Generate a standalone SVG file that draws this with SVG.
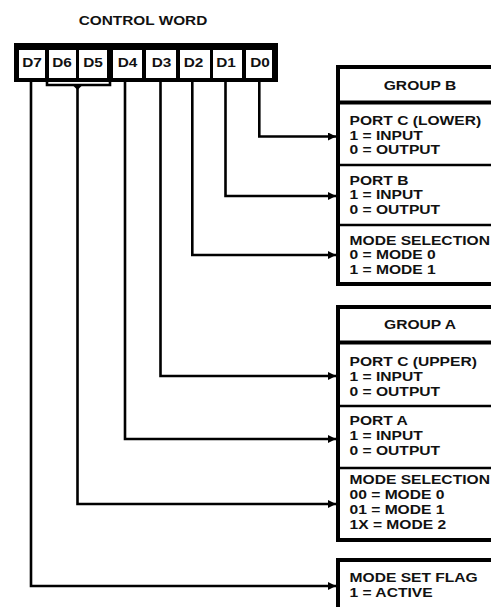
<svg xmlns="http://www.w3.org/2000/svg" width="491" height="607" viewBox="0 0 491 607">
<defs>
<style>
.t{font-family:"Liberation Sans",Arial,Helvetica,sans-serif;font-weight:bold;font-size:12.5px;fill:#111}
.m{text-anchor:middle}
.cell{fill:#fff}
.box{fill:#fff;stroke:#000;stroke-width:4}
.hdr{stroke:#000;stroke-width:4}
.div{stroke:#000;stroke-width:2.6}
.con{fill:none;stroke:#000;stroke-width:2.6}
</style>
<marker id="ah" viewBox="0 0 10 10" refX="10" refY="5" markerWidth="9" markerHeight="8" markerUnits="userSpaceOnUse" orient="auto">
<path d="M0,0 L10,5 L0,10 z" fill="#000"/>
</marker>
</defs>
<rect width="491" height="607" fill="#fff"/>

<g id="control-word">
<rect x="14" y="43" width="264" height="39" fill="#000"/>
<g id="cell-D7"><rect class="cell" x="19" y="50" width="26" height="28"/></g>
<g id="cell-D6"><rect class="cell" x="49" y="50" width="27" height="28"/></g>
<g id="cell-D5"><rect class="cell" x="79" y="50" width="28" height="28"/></g>
<g id="cell-D4"><rect class="cell" x="113" y="50" width="29" height="28"/></g>
<g id="cell-D3"><rect class="cell" x="146" y="50" width="30" height="28"/></g>
<g id="cell-D2"><rect class="cell" x="180" y="50" width="30" height="28"/></g>
<g id="cell-D1"><rect class="cell" x="213" y="50" width="29" height="28"/></g>
<g id="cell-D0"><rect class="cell" x="246" y="50" width="26" height="28"/></g>
</g>

<g id="group-b">
<rect class="box" x="338" y="67" width="170" height="217"/>
<line class="hdr" x1="338" y1="102.5" x2="508" y2="102.5"/>
<line class="div" x1="338" y1="165" x2="508" y2="165"/>
<line class="div" x1="338" y1="225" x2="508" y2="225"/>
</g>

<g id="group-a">
<rect class="box" x="338" y="307" width="170" height="233"/>
<line class="hdr" x1="338" y1="342.5" x2="508" y2="342.5"/>
<line class="div" x1="338" y1="406" x2="508" y2="406"/>
<line class="div" x1="338" y1="468" x2="508" y2="468"/>
</g>

<g id="mode-set-flag">
<rect class="box" x="338" y="560" width="170" height="70"/>
</g>

<g id="connectors">
<path class="con" d="M47,81 V85 H110 V81"/>
<polygon points="73.5,86 81.5,86 77.5,90" fill="#000"/>
<path class="con" d="M31,81 V586 H336" marker-end="url(#ah)"/>
<path class="con" d="M77.5,85 V504 H336" marker-end="url(#ah)"/>
<path class="con" d="M125,81 V439 H336" marker-end="url(#ah)"/>
<path class="con" d="M160.5,81 V376 H336" marker-end="url(#ah)"/>
<path class="con" d="M192.3,81 V255 H336" marker-end="url(#ah)"/>
<path class="con" d="M225.5,81 V196 H336" marker-end="url(#ah)"/>
<path class="con" d="M259.3,81 V136.5 H336" marker-end="url(#ah)"/>
</g>

<g id="labels-top" transform="scale(1.23,1)">
<text class="t m" x="116.26" y="25">CONTROL WORD</text>
<text class="t m" x="26.02" y="67">D7</text>
<text class="t m" x="50.41" y="67">D6</text>
<text class="t m" x="75.61" y="67">D5</text>
<text class="t m" x="103.66" y="67">D4</text>
<text class="t m" x="131.3" y="67">D3</text>
<text class="t m" x="157.32" y="67">D2</text>
<text class="t m" x="183.74" y="67">D1</text>
<text class="t m" x="211.38" y="67">D0</text>
</g>

<g id="labels-boxes" transform="scale(1.25,1)">
<text class="t m" x="336" y="90">GROUP B</text>
<text class="t" x="279.6" y="125.5">PORT C (LOWER)</text>
<text class="t" x="279.6" y="140">1 = INPUT</text>
<text class="t" x="279.6" y="154.5">0 = OUTPUT</text>
<text class="t" x="279.6" y="185">PORT B</text>
<text class="t" x="279.6" y="199.5">1 = INPUT</text>
<text class="t" x="279.6" y="214">0 = OUTPUT</text>
<text class="t" x="279.6" y="245">MODE SELECTION</text>
<text class="t" x="279.6" y="259.5">0 = MODE 0</text>
<text class="t" x="279.6" y="274">1 = MODE 1</text>

<text class="t m" x="336" y="329">GROUP A</text>
<text class="t" x="279.6" y="366">PORT C (UPPER)</text>
<text class="t" x="279.6" y="381">1 = INPUT</text>
<text class="t" x="279.6" y="396">0 = OUTPUT</text>
<text class="t" x="279.6" y="425">PORT A</text>
<text class="t" x="279.6" y="440">1 = INPUT</text>
<text class="t" x="279.6" y="455">0 = OUTPUT</text>
<text class="t" x="279.6" y="484">MODE SELECTION</text>
<text class="t" x="279.6" y="499">00 = MODE 0</text>
<text class="t" x="279.6" y="514">01 = MODE 1</text>
<text class="t" x="279.6" y="529">1X = MODE 2</text>

<text class="t" x="279.6" y="582">MODE SET FLAG</text>
<text class="t" x="279.6" y="597">1 = ACTIVE</text>
</g>
</svg>
